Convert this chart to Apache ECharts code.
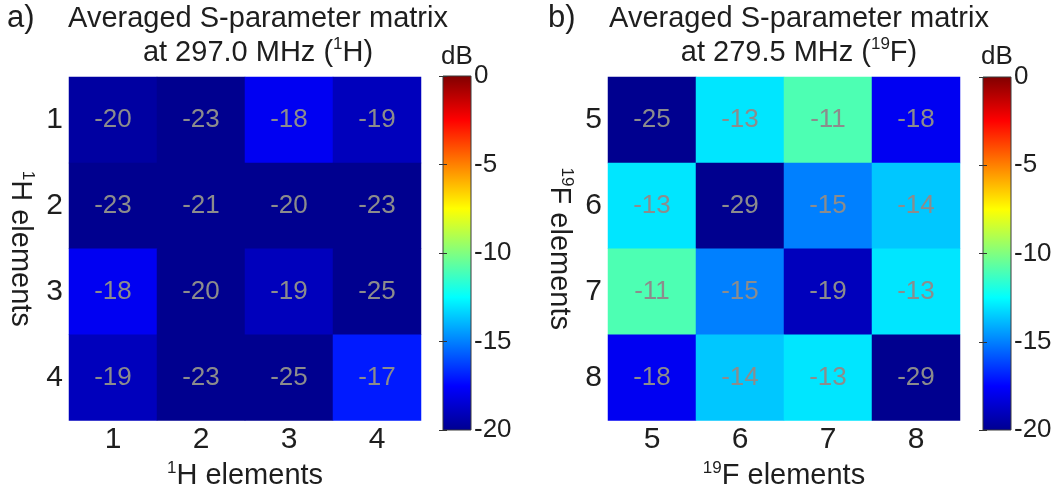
<!DOCTYPE html>
<html><head><meta charset="utf-8">
<script src="https://cdn.jsdelivr.net/npm/echarts@6/dist/echarts.min.js"></script>
<style>html,body{margin:0;padding:0;background:#fff}#c{width:1055px;height:495px}</style>
</head><body><div id="c"></div>
<script>
// ---- data ----
const catsH = ['1', '2', '3', '4'];
const catsF = ['5', '6', '7', '8'];
// rows top->bottom, columns left->right (dB)
const valuesH = [
  [-19.6, -23, -17.8, -19],
  [-23, -21, -20, -23],
  [-17.8, -20, -19, -25],
  [-19, -23, -25, -17]
];
const valuesF = [
  [-25, -13, -11, -17.8],
  [-13, -29, -15, -13.6],
  [-11, -15, -19, -13],
  [-17.8, -13.6, -13, -29]
];
const cbMin = -20, cbMax = 0, cbStep = 5;
const jet = ['#00008F', '#0000FF', '#0080FF', '#00FFFF', '#80FF80', '#FFFF00', '#FF8000', '#FF0000', '#800000'];

function toData(rows) {
  const out = [];
  rows.forEach((row, r) => row.forEach((v, c) => out.push([c, r, v])));
  return out;
}
const FONT = '"Liberation Sans", Arial, sans-serif';
const TXT = '#1e1e1e';
const grad = new echarts.graphic.LinearGradient(0, 1, 0, 0,
  jet.map((c, i) => ({ offset: i / (jet.length - 1), color: c })));

const chart = echarts.init(document.getElementById('c'));

const richName = {
  t: { fontSize: 29, fontFamily: FONT, color: TXT, lineHeight: 32, fontWeight: 'normal' },
  s: { fontSize: 17, fontFamily: FONT, color: TXT, lineHeight: 18, verticalAlign: 'top', fontWeight: 'normal' }
};
function catX(cats, gi, label) {
  return {
    type: 'category', data: cats, gridIndex: gi,
    axisLine: { show: false }, axisTick: { show: false }, splitLine: { show: false },
    axisLabel: { fontSize: 30, color: TXT, margin: 4, fontFamily: FONT },
    name: label, nameLocation: 'middle', nameGap: 30,
    nameTextStyle: { color: TXT, fontFamily: FONT, rich: richName }
  };
}
function catY(cats, gi, label) {
  return {
    type: 'category', data: cats, gridIndex: gi, inverse: true,
    axisLine: { show: false }, axisTick: { show: false }, splitLine: { show: false },
    axisLabel: { fontSize: 30, color: TXT, margin: 6, fontFamily: FONT },
    name: label, nameLocation: 'middle', nameGap: 33, nameRotate: -90,
    nameTextStyle: { color: TXT, fontFamily: FONT, rich: richName }
  };
}
function cbY(gi, pos, showLabel) {
  return {
    type: 'value', gridIndex: gi, position: pos, min: cbMin, max: cbMax, interval: cbStep,
    axisLine: { show: false }, splitLine: { show: false },
    axisTick: { show: true, inside: true, length: 4, lineStyle: { color: '#333', width: 1 } },
    axisLabel: { show: showLabel, fontSize: 26, color: TXT, margin: 3, fontFamily: FONT }
  };
}
const richTitle = {
  t: { fontSize: 29, fontFamily: FONT, color: TXT, lineHeight: 34, fontWeight: 'normal' },
  s: { fontSize: 17, fontFamily: FONT, color: TXT, lineHeight: 22, verticalAlign: 'top', fontWeight: 'normal' }
};
const cellLabel = {
  show: true, color: '#8c8c8c', fontSize: 26, fontFamily: FONT,
  formatter: p => String(Math.round(p.value[2]))
};
const plainTitle = { fontSize: 31, fontWeight: 'normal', color: TXT, fontFamily: FONT };

chart.setOption({
  animation: false,
  backgroundColor: '#fff',
  textStyle: { fontFamily: FONT },
  title: [
    { text: 'a)', left: 7, top: 3, padding: 0, textStyle: plainTitle },
    { text: '{t|Averaged S-parameter matrix}\n{t|at 297.0 MHz (}{s|1}{t|H)}', left: 258, top: 2, padding: 0,
      textAlign: 'center', textStyle: { fontWeight: 'normal', rich: richTitle } },
    { text: 'b)', left: 548, top: 3, padding: 0, textStyle: plainTitle },
    { text: '{t|Averaged S-parameter matrix}\n{t|at 279.5 MHz (}{s|19}{t|F)}', left: 799, top: 2, padding: 0,
      textAlign: 'center', textStyle: { fontWeight: 'normal', rich: richTitle } },
    { text: 'dB', left: 457, top: 44, padding: 0, textAlign: 'center', textStyle: { fontSize: 26, fontWeight: 'normal', color: TXT, fontFamily: FONT } },
    { text: 'dB', left: 997, top: 44, padding: 0, textAlign: 'center', textStyle: { fontSize: 26, fontWeight: 'normal', color: TXT, fontFamily: FONT } }
  ],
  grid: [
    { left: 69, top: 77, width: 352, height: 351 },
    { left: 608, top: 77, width: 352, height: 351 },
    { left: 443, top: 76, width: 28, height: 354, show: true, backgroundColor: grad, borderColor: '#3a3a3a', borderWidth: 1 },
    { left: 983, top: 77, width: 28, height: 353, show: true, backgroundColor: grad, borderColor: '#3a3a3a', borderWidth: 1 }
  ],
  xAxis: [
    catX(catsH, 0, '{s|1}{t|H elements}'),
    catX(catsF, 1, '{s|19}{t|F elements}'),
    { type: 'value', gridIndex: 2, show: false },
    { type: 'value', gridIndex: 3, show: false }
  ],
  yAxis: [
    catY(catsH, 0, '{s|1}{t|H elements}'),
    catY(catsF, 1, '{s|19}{t|F elements}'),
    cbY(2, 'right', true), cbY(2, 'left', false),
    cbY(3, 'right', true), cbY(3, 'left', false)
  ],
  visualMap: [
    { type: 'continuous', show: false, min: cbMin, max: cbMax, seriesIndex: 0, inRange: { color: jet } },
    { type: 'continuous', show: false, min: cbMin, max: cbMax, seriesIndex: 1, inRange: { color: jet } }
  ],
  series: [
    { type: 'heatmap', xAxisIndex: 0, yAxisIndex: 0, data: toData(valuesH), label: cellLabel, itemStyle: { borderWidth: 0 } },
    { type: 'heatmap', xAxisIndex: 1, yAxisIndex: 1, data: toData(valuesF), label: cellLabel, itemStyle: { borderWidth: 0 } }
  ]
});
</script></body></html>
